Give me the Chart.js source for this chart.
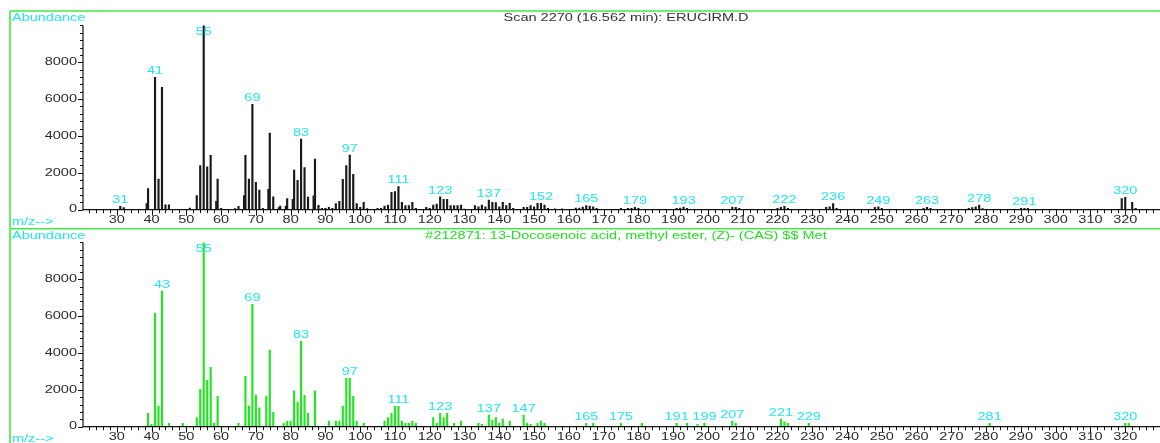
<!DOCTYPE html>
<html>
<head>
<meta charset="utf-8">
<title>Scan 2270 vs library</title>
<script src="https://cdn.jsdelivr.net/npm/chart.js@4.4.1/dist/chart.umd.min.js"></script>
<style>
  body { margin: 0; background: #fff; }
  #wrap { position: relative; width: 1160px; height: 443px; overflow: hidden; }
  canvas { position: absolute; left: 0; }
  #scanChart { top: 0; }
  #libChart { top: 228px; }
</style>
</head>
<body>
<div id="wrap">
  <canvas id="scanChart" width="1160" height="228"></canvas>
  <canvas id="libChart" width="1160" height="215"></canvas>
</div>
<script>
// Measured scan 2270 (16.562 min)
const scanMz = [31, 32, 38.6, 39, 41, 42, 43, 44, 45, 51, 53, 54, 55, 56, 57, 58.6, 59, 60, 64, 65,
  66.6, 67, 68, 69, 70, 71, 72, 73.6, 74, 75, 76.6, 77, 78.6, 79, 80.6, 81, 82, 83, 84, 85,
  86.6, 87, 88, 89, 90, 91, 92, 93, 94, 95, 96, 97, 98, 99, 100, 101, 102, 105, 106, 107,
  108, 109, 110, 111, 112, 113, 114, 115, 116, 119, 120, 121, 122, 123, 124, 125, 126, 127, 128, 129,
  130, 133, 134, 135, 136, 137, 138, 139, 140, 141, 142, 143, 144, 147, 148, 149, 150, 151, 152, 153,
  154, 156, 158, 162, 163, 164, 165, 166, 167, 168, 175, 177, 178, 179, 180, 191, 192, 193, 194, 207,
  208, 209, 220, 221, 222, 223, 234, 235, 236, 237, 248, 249, 250, 262, 263, 264, 275, 276, 277, 278,
  279, 290, 291, 292, 319, 320, 322, 323];
const scanAbund = [180, 120, 330, 1150, 7180, 1660, 6640, 270, 270, 90, 760, 2400, 10000, 2330, 2950, 450, 1660, 70, 60, 180,
  760, 2950, 1660, 5720, 1480, 1070, 70, 1100, 4160, 700, 120, 200, 200, 600, 560, 2150, 1590, 3830, 2280, 680,
  750, 2750, 240, 80, 80, 130, 80, 330, 450, 1650, 2400, 2970, 1920, 330, 130, 400, 60, 70, 70, 200,
  250, 940, 980, 1250, 400, 220, 220, 400, 70, 130, 70, 250, 300, 700, 560, 560, 220, 220, 220, 250,
  40, 220, 160, 250, 160, 520, 400, 380, 160, 400, 220, 340, 70, 130, 130, 220, 160, 340, 340, 250,
  70, 50, 50, 90, 90, 145, 220, 200, 160, 70, 70, 70, 70, 130, 70, 70, 90, 145, 70, 145,
  130, 70, 70, 130, 180, 70, 130, 160, 330, 70, 130, 160, 70, 70, 130, 70, 70, 110, 160, 250,
  60, 70, 70, 70, 610, 670, 400, 80];
const scanPeaks = [31, 41, 55, 69, 83, 97, 111, 123, 137, 152, 165, 179, 193, 207, 222, 236, 249, 263, 278, 291, 320];

// Library hit #212871
const libMz = [39, 40, 41, 42, 43, 45, 49, 53, 54, 55, 56, 57, 58, 59, 65, 67, 68, 69, 70, 71,
  73, 74, 75, 78, 79, 80, 81, 82, 83, 84, 85, 87, 91, 93, 94, 95, 96, 97, 98, 99,
  101, 107, 108, 109, 110, 111, 112, 113, 114, 115, 116, 121, 122, 123, 124, 125, 127, 129, 134, 135,
  137, 138, 139, 140, 141, 143, 147, 148, 149, 151, 152, 153, 165, 167, 175, 181, 191, 194, 197, 199,
  207, 208, 221, 222, 223, 229, 281, 320, 321];
const libAbund = [720, 130, 6150, 1100, 7360, 180, 180, 490, 2030, 10000, 2510, 3220, 180, 1650, 180, 2730, 1120, 6640, 1720, 1030,
  1650, 4160, 780, 180, 310, 310, 1950, 1340, 4630, 1700, 720, 1950, 310, 310, 310, 1100, 2620, 2620, 1650, 310,
  180, 310, 490, 720, 1100, 1100, 310, 180, 180, 310, 180, 490, 180, 720, 490, 720, 180, 310, 180, 130,
  630, 360, 490, 180, 420, 310, 630, 180, 130, 180, 310, 180, 180, 180, 180, 180, 180, 180, 130, 180,
  310, 180, 420, 270, 180, 180, 180, 180, 180];
const libPeaks = [43, 55, 69, 83, 97, 111, 123, 137, 147, 165, 175, 191, 199, 207, 221, 229, 281, 320];

const mzTickLabels = [30, 40, 50, 60, 70, 80, 90, 100, 110, 120, 130, 140, 150, 160, 170, 180, 190, 200,
  210, 220, 230, 240, 250, 260, 270, 280, 290, 300, 310, 320];
const abundTickLabels = [0, 2000, 4000, 6000, 8000];

const TEXT_STRETCH = 1.45;
const FONT = '"Liberation Sans", Arial, sans-serif';
const CYAN = '#25e3f0';
const FRAME = '#45e845';

// text in this report is drawn wide, so squeeze it through a horizontal scale
function wideText(ctx, text, x, y, align, color, size) {
  ctx.save();
  ctx.font = size + 'px ' + FONT;
  ctx.fillStyle = color;
  ctx.textBaseline = 'middle';
  ctx.textAlign = 'left';
  const w = ctx.measureText(text).width * TEXT_STRETCH;
  let left = x;
  if (align === 'center') left = x - w / 2;
  else if (align === 'right') left = x - w;
  ctx.translate(left, y);
  ctx.scale(TEXT_STRETCH, 1);
  ctx.fillText(text, 0, 0);
  ctx.restore();
}

const spectrumDecor = {
  id: 'spectrumDecor',
  afterDatasetsDraw(chart, args, opts) {
    const ctx = chart.ctx;
    const area = chart.chartArea;
    const xs = chart.scales.x;
    const ys = chart.scales.y;
    const base = ys.getPixelForValue(0);
    const axisX = xs.getPixelForValue(20) + 1;

    // frame
    ctx.save();
    ctx.strokeStyle = FRAME;
    ctx.lineWidth = 1.6;
    ctx.beginPath();
    ctx.moveTo(10, opts.frameTop);
    ctx.lineTo(10, chart.height);
    ctx.moveTo(10, opts.frameTop);
    ctx.lineTo(chart.width, opts.frameTop);
    ctx.stroke();
    ctx.restore();

    // axes
    ctx.save();
    ctx.strokeStyle = '#111';
    ctx.lineWidth = 1.2;
    ctx.beginPath();
    ctx.moveTo(axisX, area.top);
    ctx.lineTo(axisX, base);
    ctx.lineTo(chart.width, base);
    ctx.stroke();

    ctx.lineWidth = 1;
    ctx.beginPath();
    for (let v = 22; v <= 330; v += 2) {
      const px = Math.round(xs.getPixelForValue(v)) + 0.5;
      ctx.moveTo(px, base);
      ctx.lineTo(px, base + (v % 10 === 0 ? 6 : 3.5));
    }
    for (let v = 400; v <= 10000; v += 400) {
      const py = Math.round(ys.getPixelForValue(v)) + 0.5;
      ctx.moveTo(axisX, py);
      ctx.lineTo(axisX - 3, py);
    }
    abundTickLabels.forEach(v => {
      const py = Math.round(ys.getPixelForValue(v)) + 0.5;
      ctx.moveTo(axisX, py);
      ctx.lineTo(axisX - 5, py);
    });
    ctx.stroke();
    ctx.restore();

    mzTickLabels.forEach(v => {
      wideText(ctx, String(v), xs.getPixelForValue(v), base + 11, 'center', '#2b2b2b', 10);
    });
    abundTickLabels.forEach(v => {
      wideText(ctx, String(v), axisX - 6, ys.getPixelForValue(v), 'right', '#2b2b2b', 10);
    });

    wideText(ctx, 'Abundance', 12, opts.titleY, 'left', CYAN, 10);
    wideText(ctx, 'm/z-->', 12, base + 12.5, 'left', CYAN, 10);
    wideText(ctx, opts.title, 626, opts.titleY, 'center', opts.titleColor, 10);

    // peak labels
    const meta = chart.getDatasetMeta(0);
    opts.peaks.forEach(mz => {
      const i = opts.mz.indexOf(mz);
      if (i < 0) return;
      const bar = meta.data[i];
      const y = Math.max(bar.y - 6, area.top + 6.6);
      wideText(ctx, String(mz), bar.x, y, 'center', CYAN, 10);
    });
  }
};

function spectrumChart(id, mz, abund, peaks, cfg) {
  return new Chart(document.getElementById(id), {
    type: 'bar',
    data: {
      datasets: [{
        data: mz.map((m, i) => ({ x: m, y: abund[i] })),
        backgroundColor: cfg.barColor,
        barThickness: 1.5
      }]
    },
    options: {
      responsive: false,
      animation: false,
      layout: { padding: cfg.padding },
      plugins: {
        legend: { display: false },
        tooltip: { enabled: false },
        spectrumDecor: {
          title: cfg.title,
          titleColor: cfg.titleColor,
          titleY: cfg.titleY,
          frameTop: cfg.frameTop,
          peaks: peaks,
          mz: mz
        }
      },
      scales: {
        x: { type: 'linear', min: 20, max: 330, offset: false, display: false },
        y: { min: 0, max: 10000, display: false }
      }
    },
    plugins: [spectrumDecor]
  });
}

spectrumChart('scanChart', scanMz, scanAbund, scanPeaks, {
  barColor: '#1a1a1a',
  padding: { left: 82, right: 0, top: 25.4, bottom: 18.3 },
  title: 'Scan 2270 (16.562 min): ERUCIRM.D',
  titleColor: '#333',
  titleY: 18.5,
  frameTop: 11
});

spectrumChart('libChart', libMz, libAbund, libPeaks, {
  barColor: '#22e622',
  padding: { left: 82, right: 0, top: 14.4, bottom: 16.3 },
  title: '#212871: 13-Docosenoic acid, methyl ester, (Z)- (CAS) $$ Met',
  titleColor: '#22dd22',
  titleY: 8.5,
  frameTop: 0.8
});
</script>
</body>
</html>
